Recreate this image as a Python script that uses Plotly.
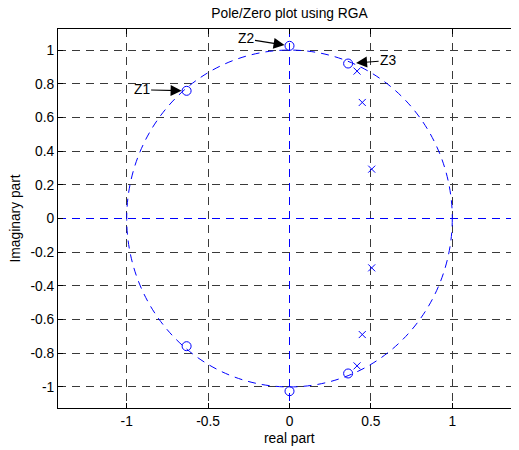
import plotly.graph_objects as go

# ---- data ----
zeros_re = [-0.632, -0.632, 0.0, 0.0, 0.36, 0.36]
zeros_im = [0.758, -0.758, 1.025, -1.025, 0.92, -0.92]
poles_re = [0.415, 0.415, 0.447, 0.447, 0.505, 0.505]
poles_im = [0.875, -0.875, 0.689, -0.689, 0.293, -0.293]
unit_radius = 1.0
x_ticks = [-1, -0.5, 0, 0.5, 1]
x_labels = ["-1", "-0.5", "0", "0.5", "1"]
y_ticks = [-1, -0.8, -0.6, -0.4, -0.2, 0, 0.2, 0.4, 0.6, 0.8, 1]
y_labels = ["-1", "-0.8", "-0.6", "-0.4", "-0.2", "0", "0.2", "0.4", "0.6", "0.8", "1"]
labels = ["Z1", "Z2", "Z3"]
label_idx = [0, 2, 4]
x_range = [-1.422, 1.422]
y_range = [-1.125, 1.125]

BLUE = "#0000FF"
DASH = "8px,6px"
FONT = "Liberation Sans, Arial, sans-serif"
FS = 13.8

# the page body adds an 8px offset, so the figure is sized/margined to compensate
W, H = 513, 442

fig = go.Figure()
# blue dashed real / imaginary axes
fig.add_trace(go.Scatter(x=[x_range[0], x_range[1]], y=[0, 0], mode="lines",
                         line=dict(color=BLUE, width=1, dash=DASH), hoverinfo="skip"))
fig.add_trace(go.Scatter(x=[0, 0], y=[y_range[1], y_range[0]], mode="lines",
                         line=dict(color=BLUE, width=1, dash=DASH), hoverinfo="skip"))
# zeros
fig.add_trace(go.Scatter(x=zeros_re, y=zeros_im, mode="markers",
                         marker=dict(symbol="circle-open", size=9, color=BLUE,
                                     line=dict(width=1, color=BLUE))))
# poles
fig.add_trace(go.Scatter(x=poles_re, y=poles_im, mode="markers",
                         marker=dict(symbol="x-thin-open", size=7, color=BLUE,
                                     line=dict(width=1, color=BLUE))))

# unit circle
fig.add_shape(type="circle", xref="x", yref="y",
              x0=-unit_radius, x1=unit_radius, y0=-unit_radius, y1=unit_radius,
              line=dict(color=BLUE, width=1, dash=DASH), layer="above")

offsets = [(-45, -1, 5), (-44, -7, 5), (40, -3, 8)]
for lab, i, (ax, ay, so) in zip(labels, label_idx, offsets):
    fig.add_annotation(x=zeros_re[i], y=zeros_im[i], text=lab, showarrow=True,
                       ax=ax, ay=ay, axref="pixel", ayref="pixel",
                       arrowhead=2, arrowsize=2.0, arrowwidth=1.1, arrowcolor="black",
                       standoff=so, font=dict(family=FONT, size=FS, color="black"))

# axis titles placed as annotations relative to the plot area
fig.add_annotation(text="real part", xref="paper", yref="paper", x=0.5, y=0,
                   yshift=-30, yanchor="middle", showarrow=False,
                   font=dict(family=FONT, size=FS, color="black"))
fig.add_annotation(text="Imaginary part", xref="paper", yref="paper", x=0, y=0.5,
                   xshift=-43, xanchor="center", yanchor="middle", textangle=-90,
                   showarrow=False, font=dict(family=FONT, size=FS, color="black"))

axis_common = dict(showline=True, linecolor="black", linewidth=1, ticks="inside",
                   ticklen=5, tickcolor="black", showgrid=True, gridcolor="#3a3a3a",
                   gridwidth=1, griddash=DASH, zeroline=False, automargin=False,
                   tickfont=dict(family=FONT, size=FS, color="black"))

fig.update_layout(
    width=W, height=H,
    margin=dict(l=50, r=0, t=21, b=42, autoexpand=False),
    paper_bgcolor="white", plot_bgcolor="white",
    showlegend=False,
    font=dict(family=FONT, size=FS, color="black"),
    title=dict(text="Pole/Zero plot using RGA", x=0.5, xref="paper",
               y=1 - 5 / H, yref="container", yanchor="middle",
               font=dict(family=FONT, size=FS, color="black")),
    xaxis=dict(range=x_range, tickvals=x_ticks, ticktext=x_labels, mirror="ticks",
               **axis_common),
    yaxis=dict(range=y_range, tickvals=y_ticks, ticktext=y_labels, mirror=False,
               **axis_common),
)

fig.write_html("out.html")
